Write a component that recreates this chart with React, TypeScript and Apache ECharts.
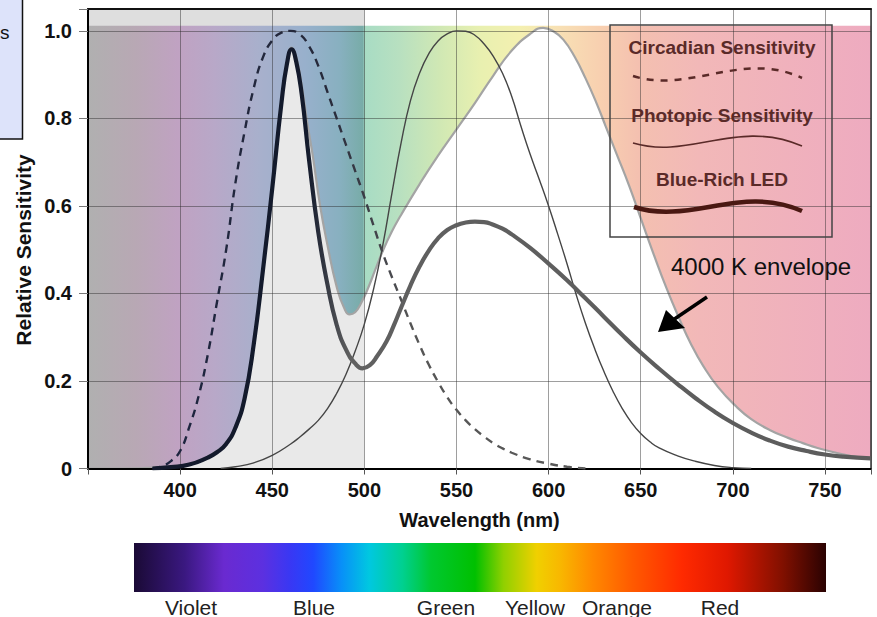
import { useEffect, useRef } from "react";
import * as echarts from "echarts";

const FONT = "'Liberation Sans', Arial, Helvetica, sans-serif";

const X_MIN = 350;
const X_MAX = 775;
const Y_MAX = 1.05;
const xTicks = [400, 450, 500, 550, 600, 650, 700, 750];
const yTicks = [0, 0.2, 0.4, 0.6, 0.8, 1.0];

// Circadian sensitivity (dashed)
const circadian: [number, number][] = [
  [385, 0], [390, 0.005], [395, 0.017], [400, 0.04], [405, 0.095], [410, 0.165],
  [415, 0.26], [420, 0.38], [425, 0.5], [430, 0.652], [435, 0.77], [440, 0.87],
  [445, 0.94], [450, 0.978], [455, 0.996], [460, 1.0], [465, 0.992], [470, 0.965],
  [475, 0.92], [480, 0.86], [485, 0.8], [490, 0.74], [495, 0.68], [500, 0.62],
  [505, 0.555], [510, 0.492], [515, 0.437], [520, 0.385], [525, 0.332], [530, 0.282],
  [535, 0.237], [540, 0.198], [545, 0.163], [550, 0.134], [555, 0.11], [560, 0.09],
  [565, 0.073], [570, 0.058], [575, 0.046], [580, 0.036], [590, 0.021], [600, 0.011],
  [610, 0.004], [620, 0],
];

// Photopic sensitivity (thin)
const photopic: [number, number][] = [
  [422, 0], [430, 0.004], [440, 0.013], [450, 0.03], [460, 0.056], [465, 0.072],
  [470, 0.09], [475, 0.11], [480, 0.137], [485, 0.172], [490, 0.215], [495, 0.268],
  [500, 0.33], [505, 0.41], [510, 0.51], [515, 0.63], [520, 0.745], [525, 0.84],
  [530, 0.904], [535, 0.948], [540, 0.977], [545, 0.993], [550, 1.0], [555, 0.999],
  [560, 0.99], [565, 0.97], [570, 0.942], [575, 0.903], [580, 0.85], [585, 0.782],
  [590, 0.718], [595, 0.66], [600, 0.6], [605, 0.535], [610, 0.468], [615, 0.397],
  [620, 0.332], [625, 0.274], [630, 0.222], [635, 0.176], [640, 0.137], [645, 0.105],
  [650, 0.08], [655, 0.061], [660, 0.047], [670, 0.029], [680, 0.016], [690, 0.007],
  [700, 0.002], [710, 0],
];

// Blue-rich LED spectrum (thick)
const led: [number, number][] = [
  [385, 0], [395, 0.003], [405, 0.009], [415, 0.025], [420, 0.037], [425, 0.056],
  [430, 0.093], [435, 0.16], [440, 0.285], [445, 0.455], [450, 0.64], [455, 0.835],
  [458, 0.925], [460.5, 0.958], [463, 0.93], [466, 0.855], [470, 0.705], [475, 0.54],
  [480, 0.42], [485, 0.328], [490, 0.272], [495, 0.24], [499, 0.229], [503, 0.236],
  [507, 0.257], [512, 0.29], [516, 0.327], [520, 0.368], [525, 0.418], [530, 0.462],
  [535, 0.498], [540, 0.526], [545, 0.545], [550, 0.556], [555, 0.562], [560, 0.564],
  [565, 0.563], [570, 0.557], [575, 0.548], [580, 0.535], [590, 0.504], [600, 0.468],
  [610, 0.43], [620, 0.389], [630, 0.347], [640, 0.305], [650, 0.265], [660, 0.228],
  [670, 0.193], [680, 0.16], [690, 0.13], [700, 0.104], [710, 0.082], [720, 0.064],
  [730, 0.05], [740, 0.04], [750, 0.032], [760, 0.027], [775, 0.023],
];

// 4000 K envelope (boundary of the white region)
const envelope: [number, number][] = [
  [350, 0], [370, 0], [385, 0.002], [405, 0.01], [415, 0.027], [420, 0.04],
  [425, 0.059], [430, 0.096], [435, 0.165], [440, 0.29], [445, 0.46], [450, 0.645],
  [455, 0.84], [458, 0.93], [460.5, 0.962], [463, 0.94], [466, 0.875], [469, 0.79],
  [472, 0.715], [476, 0.6], [480, 0.51], [485, 0.415], [489, 0.367], [492, 0.352],
  [495, 0.357], [498, 0.376], [502, 0.412], [506, 0.455], [510, 0.497], [515, 0.542],
  [520, 0.58], [530, 0.65], [540, 0.715], [550, 0.775], [560, 0.835], [570, 0.898],
  [580, 0.955], [590, 0.993], [597, 1.007], [603, 0.998], [608, 0.98], [614, 0.942],
  [620, 0.892], [626, 0.835], [631, 0.782], [637, 0.718], [644, 0.643], [650, 0.572],
  [657, 0.49], [664, 0.412], [671, 0.342], [677, 0.287], [684, 0.234], [692, 0.186],
  [702, 0.141], [710, 0.113], [720, 0.088], [730, 0.07], [738, 0.058], [746, 0.047],
  [756, 0.036], [765, 0.028], [775, 0.023],
];

const bgTop: [number, number][] = [[X_MIN, Y_MAX], [X_MAX, Y_MAX]];
const bgColor: [number, number][] = [[X_MIN, 1.012], [X_MAX, 1.012]];

const legendNames = ["Circadian Sensitivity", "Photopic Sensitivity", "Blue-Rich LED"];
const spectrumNames = ["Violet", "Blue", "Green", "Yellow", "Orange", "Red"];
const spectrumLabelX = [191, 314, 446, 535, 617, 720];

export default function App() {
  const ref = useRef<HTMLDivElement>(null);

  useEffect(() => {
    const chart = echarts.init(ref.current!, undefined, { renderer: "svg" });
    const hg = (stops: [number, string][]) =>
      new echarts.graphic.LinearGradient(
        0, 0, 1, 0,
        stops.map(([offset, color]) => ({ offset, color }))
      );
    const f500 = (500 - X_MIN) / (X_MAX - X_MIN);

    const gridLine = { show: true, lineStyle: { color: "rgba(40,40,40,0.45)", width: 1 } };
    const legendColor = "#5a2a28";

    const option: any = {
      animation: false,
      textStyle: { fontFamily: FONT },
      grid: { left: 88, right: 6, top: 9, bottom: 148.5, outerBoundsMode: "none" },
      xAxis: [
        {
          type: "value", min: X_MIN, max: X_MAX, interval: 50, z: 3,
          name: "Wavelength (nm)", nameLocation: "middle", nameGap: 41,
          nameTextStyle: { fontSize: 20, fontWeight: "bold", color: "#111", fontFamily: FONT },
          axisLine: { show: true, onZero: false, lineStyle: { color: "#000", width: 2 } },
          axisTick: { show: true, length: 6, lineStyle: { color: "#555" } },
          axisLabel: {
            margin: 11, fontSize: 20, fontWeight: "bold", color: "#111", fontFamily: FONT,
            formatter: (v: number) => (xTicks.includes(v) ? String(v) : ""),
          },
          splitLine: gridLine,
        },
        {
          type: "value", min: X_MIN, max: X_MAX, position: "top", z: 3,
          axisLine: { show: true, onZero: false, lineStyle: { color: "#111", width: 2 } },
          axisTick: { show: false }, axisLabel: { show: false }, splitLine: { show: false },
        },
      ],
      yAxis: [
        {
          type: "value", min: 0, max: Y_MAX, interval: 0.2, z: 3,
          axisLine: { show: true, onZero: false, lineStyle: { color: "#000", width: 2 } },
          axisTick: { show: true, length: 9, lineStyle: { color: "#777" } },
          axisLabel: {
            margin: 16, fontSize: 20, fontWeight: "bold", color: "#111", fontFamily: FONT,
            formatter: (v: number) => {
              const hit = yTicks.find((t) => Math.abs(t - v) < 1e-6);
              if (hit === undefined) return "";
              return hit === 0 ? "0" : hit.toFixed(1);
            },
          },
          splitLine: gridLine,
        },
        {
          type: "value", min: 0, max: Y_MAX, position: "right", z: 3,
          axisLine: { show: true, onZero: false, lineStyle: { color: "#333", width: 1.5 } },
          axisTick: { show: false }, axisLabel: { show: false }, splitLine: { show: false },
        },
      ],
      series: [
        {
          type: "line", data: bgTop, symbol: "none", silent: true, z: 1,
          lineStyle: { width: 0 },
          areaStyle: { opacity: 1, color: hg([[0, "#dedede"], [f500 - 0.0005, "#dedede"], [f500 + 0.0005, "#ffffff"], [1, "#ffffff"]]) },
        },
        {
          type: "line", data: bgColor, symbol: "none", silent: true, z: 1,
          lineStyle: { width: 0 },
          areaStyle: {
            opacity: 1,
            color: hg([
              [0, "#b0b0b0"], [0.06, "#b8a8b4"], [0.115, "#c0a2c2"], [0.162, "#b8a8c8"],
              [0.219, "#a8b0cc"], [0.277, "#98b0cc"], [0.321, "#88b0c0"], [f500 - 0.002, "#78aca8"],
              [f500 + 0.001, "#a8dcc4"], [0.398, "#b8e0c0"], [0.449, "#d0e8b4"], [0.5, "#e8f0b0"],
              [0.551, "#f4f0b0"], [0.602, "#f8e0b4"], [0.653, "#f8d0b0"], [0.704, "#f4c0b0"],
              [0.781, "#f2b8b8"], [1, "#eeabc0"],
            ]),
          },
        },
        {
          name: "4000 K envelope", type: "line", data: envelope, symbol: "none", smooth: 0.5, z: 2,
          lineStyle: { color: "#a4a4a4", width: 2.2 },
          areaStyle: { opacity: 1, color: hg([[0, "#e9e9e9"], [f500 - 0.0005, "#e9e9e9"], [f500 + 0.0005, "#ffffff"], [1, "#ffffff"]]) },
        },
        {
          name: "Photopic Sensitivity", type: "line", data: photopic, symbol: "none", smooth: 0.5, z: 5,
          lineStyle: { color: "#454545", width: 1.4 },
        },
        {
          name: "Circadian Sensitivity", type: "line", data: circadian, symbol: "none", smooth: 0.5, z: 5,
          lineStyle: {
            width: 2.4, type: [8, 6],
            color: hg([[0, "#1c2440"], [0.4, "#26293a"], [0.6, "#555555"], [1, "#5a5a5a"]]),
          },
        },
        {
          name: "Blue-Rich LED", type: "line", data: led, symbol: "none", smooth: 0.5, z: 6,
          lineStyle: {
            width: 4.2,
            color: hg([[0, "#131a2c"], [0.215, "#131a2c"], [0.275, "#606060"], [1, "#5c5c5c"]]),
          },
        },
      ],
      graphic: [
        // partial box at top-left edge
        { type: "rect", z: 20, shape: { x: -3, y: -3, width: 25.5, height: 142 }, style: { fill: "#dde3fa", stroke: "#111", lineWidth: 1.5 } },
        { type: "text", z: 21, x: 0, y: 32, style: { text: "s", fontSize: 19, fontFamily: FONT, fill: "#111", align: "left", verticalAlign: "middle" } },
        // y axis name
        {
          type: "text", z: 20, x: 23, y: 250, rotation: Math.PI / 2,
          style: { text: "Relative Sensitivity", fontSize: 21, fontWeight: "bold", fontFamily: FONT, fill: "#111", align: "center", verticalAlign: "middle" },
        },
        // legend box
        { type: "rect", z: 20, shape: { x: 610, y: 25, width: 222, height: 212 }, style: { fill: "none", stroke: "#444", lineWidth: 1.5 } },
        { type: "text", z: 21, x: 722, y: 47, style: { text: legendNames[0], fontSize: 19, fontWeight: "bold", fontFamily: FONT, fill: legendColor, align: "center", verticalAlign: "middle" } },
        { type: "text", z: 21, x: 722, y: 115, style: { text: legendNames[1], fontSize: 19, fontWeight: "bold", fontFamily: FONT, fill: legendColor, align: "center", verticalAlign: "middle" } },
        { type: "text", z: 21, x: 722, y: 179, style: { text: legendNames[2], fontSize: 19, fontWeight: "bold", fontFamily: FONT, fill: legendColor, align: "center", verticalAlign: "middle" } },
        {
          type: "bezierCurve", z: 21,
          shape: { x1: 633, y1: 76, cpx1: 690, cpy1: 94, cpx2: 742, cpy2: 50, x2: 802, y2: 78 },
          style: { fill: "none", stroke: legendColor, lineWidth: 2.5, lineDash: [7, 7] },
        },
        {
          type: "bezierCurve", z: 21,
          shape: { x1: 633, y1: 143, cpx1: 690, cpy1: 160, cpx2: 737, cpy2: 118, x2: 802, y2: 146 },
          style: { fill: "none", stroke: legendColor, lineWidth: 1.6 },
        },
        {
          type: "bezierCurve", z: 21,
          shape: { x1: 634, y1: 207, cpx1: 690, cpy1: 225, cpx2: 742, cpy2: 184, x2: 802, y2: 211 },
          style: { fill: "none", stroke: "#4a1812", lineWidth: 4.5 },
        },
        // annotation
        { type: "text", z: 21, x: 671, y: 266, style: { text: "4000 K envelope", fontSize: 24, fontFamily: FONT, fill: "#111", align: "left", verticalAlign: "middle" } },
        { type: "line", z: 21, shape: { x1: 707, y1: 297, x2: 673, y2: 320 }, style: { stroke: "#000", lineWidth: 3.5 } },
        { type: "polygon", z: 21, shape: { points: [[658, 332], [666, 310], [685, 328]] }, style: { fill: "#000" } },
        // spectrum bar
        {
          type: "rect", z: 20, shape: { x: 134, y: 543, width: 692, height: 49 },
          style: {
            fill: hg([
              [0, "#1a0a35"], [0.073, "#3a1880"], [0.13, "#6a2ad0"], [0.186, "#5c30e0"],
              [0.227, "#3838f4"], [0.259, "#2048ff"], [0.3, "#0890f8"], [0.34, "#00c8e0"],
              [0.388, "#00d090"], [0.429, "#00c830"], [0.493, "#00c000"], [0.534, "#90d000"],
              [0.582, "#f0d000"], [0.615, "#f8b800"], [0.663, "#ff8800"], [0.72, "#ff5a00"],
              [0.792, "#ff2a00"], [0.857, "#e01800"], [0.938, "#801000"], [1, "#2a0202"],
            ]),
          },
        },
        ...spectrumNames.map((name, i) => ({
          type: "text", z: 21, x: spectrumLabelX[i], y: 607,
          style: { text: name, fontSize: 21, fontFamily: FONT, fill: "#222", align: "center", verticalAlign: "middle" },
        })),
      ],
    };

    chart.setOption(option);
    return () => chart.dispose();
  }, []);

  return (
    <div
      ref={ref}
      style={{ position: "fixed", left: 0, top: 0, width: 877, height: 617, background: "#fff" }}
    />
  );
}
